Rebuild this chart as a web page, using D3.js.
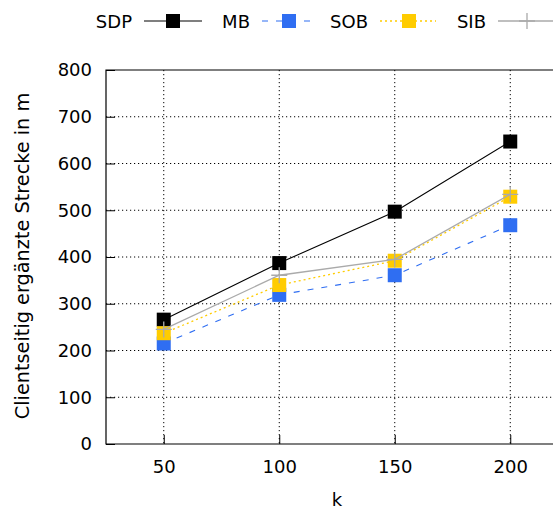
<!DOCTYPE html>
<html>
<head>
<meta charset="utf-8">
<script src="https://cdn.jsdelivr.net/npm/d3@7"></script>
<style>
  html, body { margin: 0; padding: 0; background: #fff; }
  svg { display: block; font-family: "DejaVu Sans", sans-serif; }
</style>
</head>
<body>
<svg id="chart" width="553" height="509"></svg>
<script>
// k values on the x axis
const kValues = [50, 100, 150, 200];
// supplemented distance per method (m)
const sdp = [266, 387, 497, 647];
const mb  = [215, 319, 361, 468];
const sob = [237, 340, 392, 529];
const sib = [245, 361, 395, 534];
const yTicks = [0, 100, 200, 300, 400, 500, 600, 700, 800];
const seriesNames = ["SDP", "MB", "SOB", "SIB"];

const series = [
  { name: seriesNames[0], values: sdp, color: "#000000", dash: null, width: 1.1, marker: "square" },
  { name: seriesNames[1], values: mb,  color: "#2f6ef2", dash: "6,8", width: 1.1, marker: "square" },
  { name: seriesNames[2], values: sob, color: "#ffcc00", dash: "2,3", width: 1.3, marker: "square" },
  { name: seriesNames[3], values: sib, color: "#aaaaaa", dash: null, width: 1.3, marker: "cross" }
];

const svg = d3.select("#chart");
const plotL = 106, plotT = 70, plotB = 444, plotR = 568;
const fs = 18;

const x = d3.scaleLinear().domain([25, 225]).range([plotL, plotR]);
const y = d3.scaleLinear().domain([0, 800]).range([plotB, plotT]);

// dotted grid
const grid = svg.append("g");
grid.selectAll("line.h").data(yTicks.filter(d => d > 0 && d < 800)).enter().append("line")
  .attr("x1", plotL).attr("x2", plotR)
  .attr("y1", d => y(d)).attr("y2", d => y(d))
  .attr("stroke", "#000").attr("stroke-width", 1).attr("stroke-dasharray", "1.2,2.8");
grid.selectAll("line.v").data(kValues).enter().append("line")
  .attr("x1", d => x(d)).attr("x2", d => x(d))
  .attr("y1", plotT).attr("y2", plotB)
  .attr("stroke", "#000").attr("stroke-width", 1).attr("stroke-dasharray", "1.2,2.8");

// axes with inward ticks
const yAxis = d3.axisLeft(y).tickValues(yTicks).tickSize(-9).tickPadding(14);
const xAxis = d3.axisBottom(x).tickValues(kValues).tickSize(-9).tickPadding(16);

const gy = svg.append("g").attr("transform", `translate(${plotL},0)`).call(yAxis);
const gx = svg.append("g").attr("transform", `translate(0,${plotB})`).call(xAxis);
[gy, gx].forEach(g => {
  g.select(".domain").remove();
  g.selectAll(".tick line").attr("stroke", "#000").attr("stroke-width", 1);
  g.selectAll(".tick text").attr("font-family", "DejaVu Sans").attr("font-size", fs).attr("fill", "#000");
});
gx.selectAll(".tick text").attr("dy", "0.72em");

// border
svg.append("path")
  .attr("d", `M${plotR},${plotT}H${plotL}V${plotB}H${plotR}`)
  .attr("fill", "none").attr("stroke", "#000").attr("stroke-width", 1.2);

// series lines and markers
const line = d3.line().x((d, i) => x(kValues[i])).y(d => y(d));
const ms = 14;
function drawMarker(g, cx, cy, s) {
  if (s.marker === "square") {
    g.append("rect").attr("x", cx - ms / 2).attr("y", cy - ms / 2)
      .attr("width", ms).attr("height", ms).attr("fill", s.color);
  } else {
    g.append("path")
      .attr("d", `M${cx - 8},${cy}H${cx + 8}M${cx},${cy - 8}V${cy + 8}`)
      .attr("stroke", s.color).attr("stroke-width", 1.3);
  }
}
series.forEach(s => {
  const g = svg.append("g");
  g.append("path").datum(s.values).attr("d", line)
    .attr("fill", "none").attr("stroke", s.color).attr("stroke-width", s.width)
    .attr("stroke-dasharray", s.dash);
  s.values.forEach((v, i) => drawMarker(g, x(kValues[i]), y(v), s));
});

// legend
const legendPos = [
  { tx: 132, l0: 144, l1: 202, m: 173 },
  { tx: 250, l0: 262, l1: 316, m: 289 },
  { tx: 368, l0: 380, l1: 436, m: 409 },
  { tx: 486, l0: 498, l1: 555, m: 527 }
];
const ly = 21;
series.forEach((s, i) => {
  const p = legendPos[i];
  const g = svg.append("g");
  g.append("text").attr("x", p.tx).attr("y", ly + 6.5).attr("text-anchor", "end")
    .attr("font-size", fs).attr("fill", "#000").text(s.name);
  g.append("line").attr("x1", p.l0).attr("x2", p.l1).attr("y1", ly).attr("y2", ly)
    .attr("stroke", s.color).attr("stroke-width", s.width).attr("stroke-dasharray", s.dash);
  drawMarker(g, p.m, ly, s);
});

// axis titles
svg.append("text").attr("x", 337).attr("y", 506).attr("text-anchor", "middle")
  .attr("font-size", fs).attr("fill", "#000").text("k");
svg.append("text").attr("transform", `translate(29,256) rotate(-90)`)
  .attr("text-anchor", "middle").attr("font-size", 19.3).attr("fill", "#000")
  .text("Clientseitig ergänzte Strecke in m");
</script>
</body>
</html>
